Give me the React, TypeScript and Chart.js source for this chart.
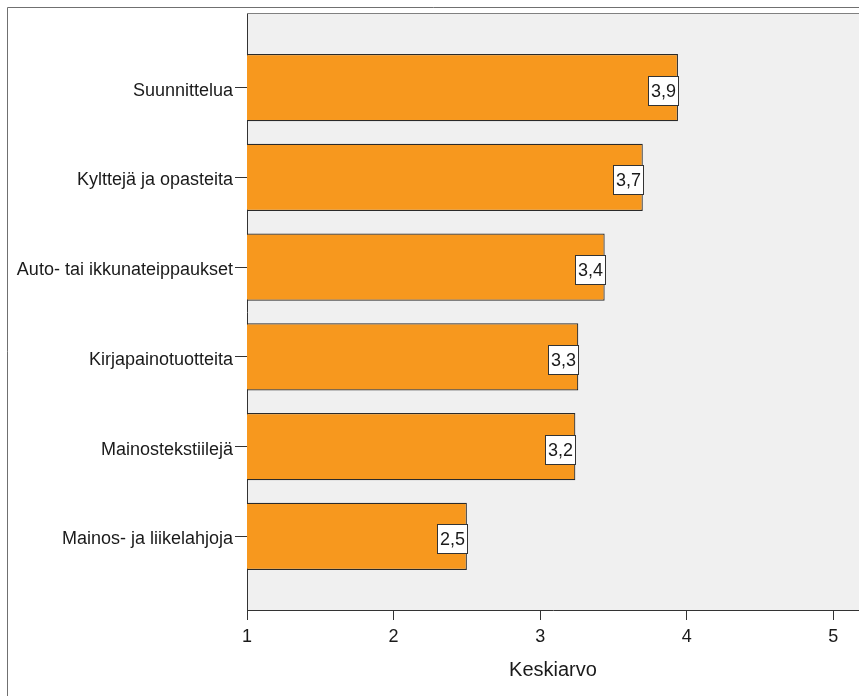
import React, { useEffect, useRef } from "react";
import { Chart, registerables } from "chart.js";

Chart.register(...registerables);

// Mean ratings per service category
const categories = [
  "Suunnittelua",
  "Kylttejä ja opasteita",
  "Auto- tai ikkunateippaukset",
  "Kirjapainotuotteita",
  "Mainostekstiilejä",
  "Mainos- ja liikelahjoja",
];
const means = [3.94, 3.7, 3.44, 3.26, 3.24, 2.5];
const xTicks = [1, 2, 3, 4, 5];
const xTitle = "Keskiarvo";

const FONT = "'Liberation Sans', Arial, Helvetica, sans-serif";
const fmt = (v: number) => v.toFixed(1).replace(".", ",");

// Plot background, plot frame and outer frame
const framePlugin = {
  id: "frame",
  beforeDraw(chart: any) {
    const { ctx, chartArea: a, width, height } = chart;
    ctx.save();
    ctx.fillStyle = "#ffffff";
    ctx.fillRect(0, 0, width, height);
    ctx.strokeStyle = "#707070";
    ctx.lineWidth = 1;
    ctx.beginPath();
    ctx.moveTo(7.5, height);
    ctx.lineTo(7.5, 7.5);
    ctx.lineTo(width, 7.5);
    ctx.stroke();
    ctx.fillStyle = "#f0f0f0";
    ctx.fillRect(a.left, a.top, a.right - a.left, a.bottom - a.top);
    ctx.strokeStyle = "#808080";
    ctx.beginPath();
    ctx.moveTo(a.left, a.top - 0.5);
    ctx.lineTo(a.right, a.top - 0.5);
    ctx.stroke();
    ctx.restore();
  },
};

// Boxed value labels at the end of each bar
const valueLabelPlugin = {
  id: "valueLabels",
  afterDatasetsDraw(chart: any) {
    const { ctx } = chart;
    const meta = chart.getDatasetMeta(0);
    ctx.save();
    ctx.font = `18px ${FONT}`;
    ctx.textAlign = "center";
    ctx.textBaseline = "middle";
    meta.data.forEach((bar: any, i: number) => {
      const text = fmt(means[i]);
      const w = Math.round(ctx.measureText(text).width) + 5;
      const h = 29;
      const right = Math.round(bar.x) + 0.5;
      const top = Math.round(bar.y + 2.5 - h / 2) + 0.5;
      ctx.fillStyle = "#ffffff";
      ctx.fillRect(right - w, top, w, h);
      ctx.strokeStyle = "#333333";
      ctx.lineWidth = 1;
      ctx.strokeRect(right - w, top, w, h);
      ctx.fillStyle = "#1a1a1a";
      ctx.fillText(text, right - w / 2, top + h / 2 + 1);
    });
    ctx.restore();
  },
};

export default function App() {
  const canvasRef = useRef<HTMLCanvasElement>(null);

  useEffect(() => {
    const canvas = canvasRef.current;
    if (!canvas) return;
    const chart = new Chart(canvas, {
      type: "bar",
      data: {
        datasets: [
          {
            data: categories.map((_, i) => ({ x: means[i], y: i })),
            backgroundColor: "#f7981e",
            borderColor: "#2a2a2a",
            borderWidth: 1.2,
            borderSkipped: false,
            categoryPercentage: 1,
            barPercentage: 0.75,
          },
        ],
      },
      plugins: [framePlugin, valueLabelPlugin],
      options: {
        indexAxis: "y",
        animation: false,
        responsive: false,
        devicePixelRatio: 1,
        layout: { padding: { top: 14, right: 0, bottom: 0, left: 0 } },
        plugins: {
          legend: { display: false },
          tooltip: { enabled: false },
        },
        scales: {
          y: {
            type: "linear",
            reverse: true,
            offset: false,
            min: -0.82,
            max: 5.82,
            afterFit: (s: any) => {
              s.width = 247;
            },
            afterBuildTicks: (s: any) => {
              s.ticks = categories.map((_, i) => ({ value: i }));
            },
            ticks: {
              callback: (v: any) => categories[v as number] ?? "",
              font: { family: FONT, size: 18 },
              color: "#1a1a1a",
              padding: 2,
              labelOffset: 3,
            },
            grid: {
              offset: false,
              drawOnChartArea: false,
              tickLength: 12,
              color: "#333333",
            },
            border: { display: true, color: "#333333", width: 1 },
          },
          x: {
            type: "linear",
            min: 1,
            max: 5.175,
            afterFit: (s: any) => {
              s.height = 86;
            },
            afterBuildTicks: (s: any) => {
              s.ticks = xTicks.map((v) => ({ value: v }));
            },
            ticks: {
              font: { family: FONT, size: 18 },
              color: "#1a1a1a",
              padding: 6,
              includeBounds: false,
            },
            grid: {
              drawOnChartArea: false,
              tickLength: 10,
              color: "#333333",
            },
            border: { display: true, color: "#333333", width: 1 },
            title: {
              display: true,
              text: xTitle,
              font: { family: FONT, size: 20 },
              color: "#1a1a1a",
              padding: { top: 0, bottom: 14 },
            },
          },
        },
      },
    });
    return () => chart.destroy();
  }, []);

  return (
    <div style={{ position: "fixed", left: 0, top: 0, width: 859, height: 696 }}>
      <canvas ref={canvasRef} width={859} height={696} style={{ width: 859, height: 696, display: "block" }} />
    </div>
  );
}
